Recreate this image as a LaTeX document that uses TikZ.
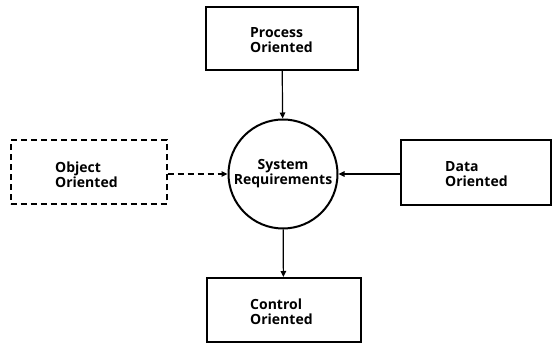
\documentclass[tikz,border=0pt]{standalone}
\usepackage{fontspec}
\setmainfont{Open Sans}
\usetikzlibrary{arrows.meta}
\begin{document}
\begin{tikzpicture}[x=1pt,y=1pt,
  lbl/.style={font=\bfseries\fontsize{14}{15}\selectfont, align=center},
  txt/.style={lbl, align=left, anchor=west, inner sep=0pt},
  box/.style={draw, line width=2pt, inner sep=0pt},
  flow/.style={-{Triangle[length=6pt,width=5.5pt]}, line width=1.2pt}]
\useasboundingbox (0,0) rectangle (552,345);
% system boxes
\node[box, minimum width=152pt, minimum height=63pt] (proc) at (282,306.5) {};
\node[txt] (proct) at (250,305) {Process\\Oriented};
\node[box, minimum width=150pt, minimum height=65pt] (data) at (475.5,172) {};
\node[txt] (datat) at (445,170.5) {Data\\Oriented};
\node[box, minimum width=154pt, minimum height=64pt] (ctrl) at (283.5,35) {};
\node[txt] (ctrlt) at (250,33.5) {Control\\Oriented};
\node[box, dashed, dash pattern=on 6pt off 4pt, minimum width=156pt, minimum height=64pt] (obj) at (88.5,172.5) {};
\node[txt] (objt) at (55,170.5) {Object\\Oriented};
% central requirement circle
\node[circle, draw, line width=2pt, minimum size=109pt, inner sep=0pt, lbl] (req) at (283,171) {System\\Requirements};
% connectors
\draw[flow] (proc) -- (req);
\draw[flow] (req) -- (ctrl);
\draw[flow] (data.west |- req.east) -- (req.east);
\draw[flow, dashed, dash pattern=on 6pt off 4pt] (obj.east |- req.west) -- (req.west);
\end{tikzpicture}
\end{document}
